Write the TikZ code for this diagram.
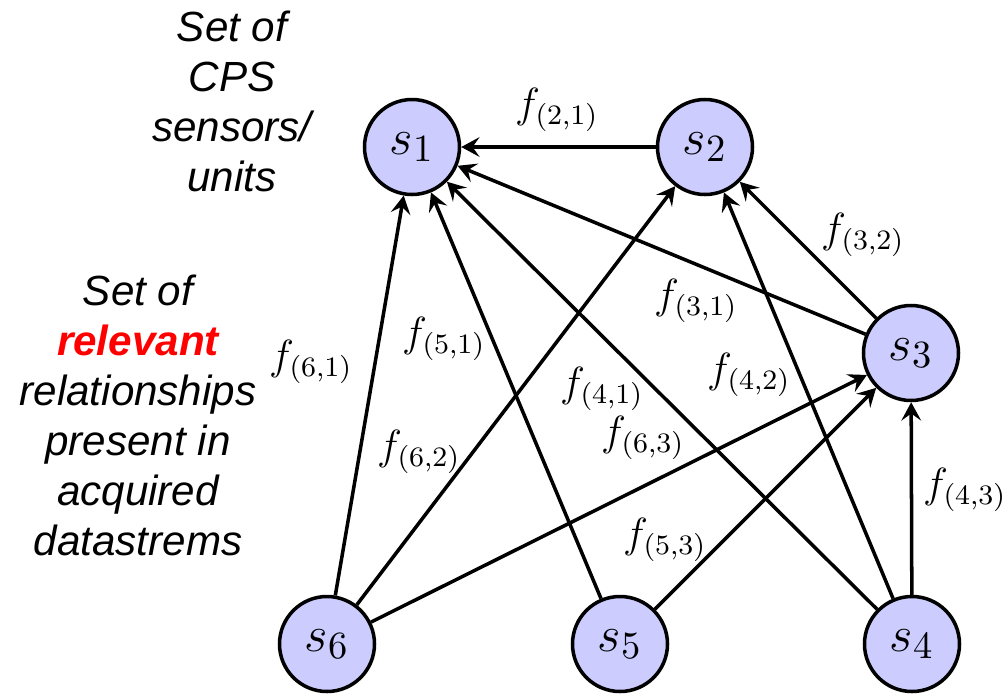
\documentclass[tikz,border=0pt]{standalone}
\usepackage{amsmath}
\usepackage{fontspec}
\newfontfamily\notefont{Liberation Sans}
\usetikzlibrary{arrows.meta}

\begin{document}
\begin{tikzpicture}[>={Stealth[length=5.2pt, width=5.6pt, inset=2pt]}, line width=1pt,
    unit/.style={circle, draw, fill=blue!20, minimum size=0.95cm, inner sep=0pt, font=\fontsize{15.5}{18}\selectfont},
    rel/.style={inner sep=0pt, font=\fontsize{12}{14}\selectfont},
    note/.style={align=center, anchor=north, inner sep=0pt, font=\notefont\itshape\fontsize{12}{14.25}\selectfont}]
    \useasboundingbox (0,0) rectangle (10.07,-6.95);
    % sensors / units
    \node[unit] (S1) at (4.12,-1.47) {$s_1$};
    \node[unit] (S2) at (7.05,-1.47) {$s_2$};
    \node[unit] (S3) at (9.11,-3.53) {$s_3$};
    \node[unit] (S4) at (9.12,-6.44) {$s_4$};
    \node[unit] (S5) at (6.20,-6.44) {$s_5$};
    \node[unit] (S6) at (3.27,-6.44) {$s_6$};
    % relationships
    \draw[->] (S2) -- (S1);
    \draw[->] (S3) -- (S1);
    \draw[->] (S4) -- (S1);
    \draw[->] (S5) -- (S1);
    \draw[->] (S6) -- (S1);
    \draw[->] (S3) -- (S2);
    \draw[->] (S4) -- (S2);
    \draw[->] (S6) -- (S2);
    \draw[->] (S4) -- (S3);
    \draw[->] (S5) -- (S3);
    \draw[->] (S6) -- (S3);
    \node[rel] (L21) at (5.57,-1.10) {$f_{(2,1)}$};
    \node[rel] (L31) at (6.96,-3.01) {$f_{(3,1)}$};
    \node[rel] (L41) at (6.02,-3.89) {$f_{(4,1)}$};
    \node[rel] (L51) at (4.44,-3.39) {$f_{(5,1)}$};
    \node[rel] (L61) at (3.11,-3.62) {$f_{(6,1)}$};
    \node[rel] (L32) at (8.63,-2.35) {$f_{(3,2)}$};
    \node[rel] (L42) at (7.49,-3.75) {$f_{(4,2)}$};
    \node[rel] (L62) at (4.19,-4.52) {$f_{(6,2)}$};
    \node[rel] (L43) at (9.65,-4.90) {$f_{(4,3)}$};
    \node[rel] (L53) at (6.65,-5.40) {$f_{(5,3)}$};
    \node[rel] (L63) at (6.43,-4.38) {$f_{(6,3)}$};
    % side notes
    \node[note] (units) at (2.32,-0.09) {Set of\\CPS\\sensors/\\units};
    \node[note] (relations) at (1.38,-2.73) {Set of\\{\bfseries\color{red}relevant}\\relationships\\present in\\acquired\\datastrems};
\end{tikzpicture}
\end{document}
